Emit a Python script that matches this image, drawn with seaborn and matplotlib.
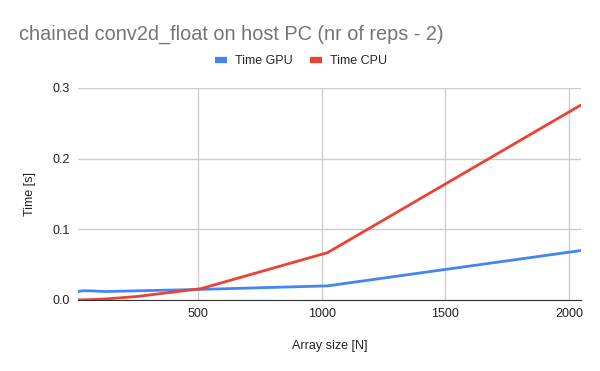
import matplotlib
matplotlib.use('Agg')
import matplotlib.pyplot as plt
from matplotlib.lines import Line2D
import seaborn as sns
import pandas as pd

sns.set_style("white")
plt.rcParams['font.family'] = ['Liberation Sans', 'DejaVu Sans']

# data
array_size = [16, 32, 64, 128, 256, 512, 1024, 2048]
time_gpu = [0.012, 0.013, 0.013, 0.012, 0.013, 0.015, 0.020, 0.070]
time_cpu = [0.0001, 0.0002, 0.0005, 0.0015, 0.005, 0.016, 0.067, 0.276]
series = ['Time GPU', 'Time CPU']
colors = {'Time GPU': '#4285F4', 'Time CPU': '#EA4335'}

df = pd.DataFrame({'Array size [N]': array_size * 2,
                   'Time [s]': time_gpu + time_cpu,
                   'series': [series[0]] * len(array_size) + [series[1]] * len(array_size)})

fig = plt.figure(figsize=(6, 3.71), dpi=100)
ax = fig.add_axes([78/600, 1 - 300/371, (581-78)/600, (300-88)/371])

sns.lineplot(data=df, x='Array size [N]', y='Time [s]', hue='series',
             palette=colors, linewidth=2, ax=ax, legend=False)

ax.set_xlim(16, 2048)
ax.set_ylim(0, 0.3)
ax.set_xticks([500, 1000, 1500, 2000])
ax.set_yticks([0.0, 0.1, 0.2, 0.3])
ax.set_yticklabels(['0.0', '0.1', '0.2', '0.3'])
ax.grid(True, color='#cccccc', linewidth=1)
for s in ['top', 'right', 'left']:
    ax.spines[s].set_visible(False)
ax.spines['bottom'].set_color('#333333')
ax.tick_params(axis='both', length=0, labelsize=9, colors='#222222', pad=6)
ax.set_xlabel('Array size [N]', fontsize=9, color='#222222', labelpad=14)
ax.set_ylabel('Time [s]', fontsize=9, color='#222222', labelpad=12)

fig.text(19/600, 1 - 34/371, 'chained conv2d_float on host PC (nr of reps - 2)',
         fontsize=14.3, color='#757575', va='center', ha='left')

# legend
handles = [Line2D([], [], color=colors[s], linewidth=4.5, solid_capstyle='butt') for s in series]
fig.legend(handles, series, loc='center', bbox_to_anchor=(301/600, 1 - 61/371),
           ncol=2, frameon=False, fontsize=9, handlelength=0.95, columnspacing=1.4,
           handletextpad=0.65)

fig.savefig('out.png', dpi=100)
